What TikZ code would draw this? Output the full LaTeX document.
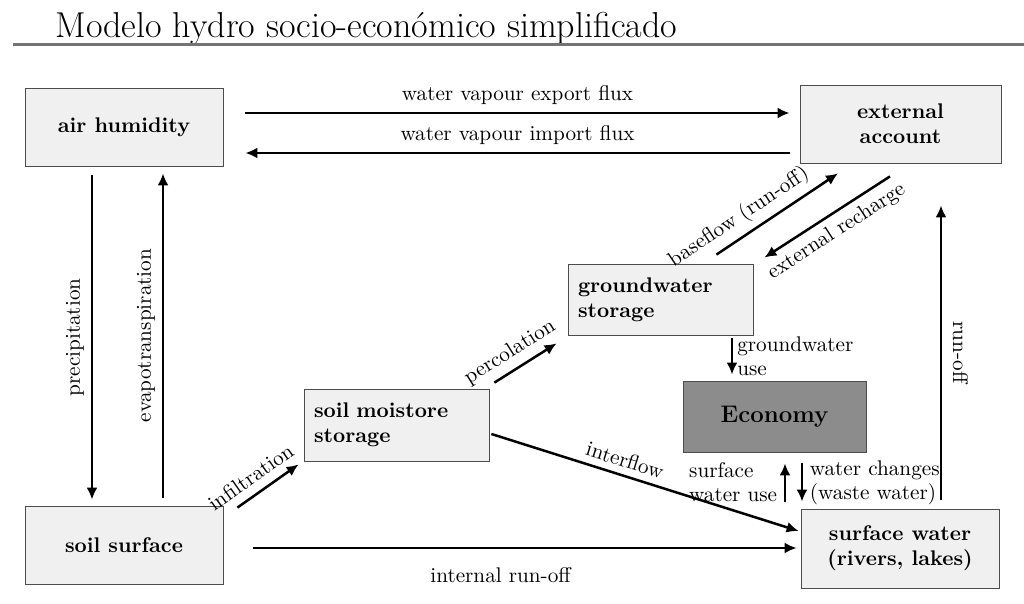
\documentclass[tikz,border=0pt]{standalone}
\usetikzlibrary{arrows.meta,calc}
\begin{document}
\begin{tikzpicture}[x=0.5pt, y=-0.5pt, font=\fontsize{10.6}{12}\selectfont,
    box/.style={draw=black!70, fill=black!6, font=\fontsize{10.6}{12.5}\selectfont\bfseries,
        inner sep=0pt, minimum width=99pt, minimum height=39pt, align=center},
    store/.style={box, align=left, inner xsep=5pt, text width=82.5pt,
        minimum width=92.5pt, minimum height=35.5pt},
    flow/.style={-{Latex[length=6pt,width=5.5pt]}, line width=1.25pt}]
    \useasboundingbox (0,0) rectangle (1024,604);

    \node[anchor=base west, inner sep=0pt, font=\fontsize{18}{20}\selectfont] (title) at (55,38)
        {Modelo hydro socio-económico simplificado};
    \draw[black!55, line width=1.5pt] (13,45) -- (1024,45);

    \node[box] (air) at (124,127) {air humidity};
    \node[box, minimum width=100.5pt] (ext) at (900.5,124) {external\\account};
    \node[store] (gw) at (660.5,299.5) {groundwater\\storage};
    \node[box, fill=black!45, font=\fontsize{12}{14}\selectfont\bfseries, minimum width=91.5pt,
        minimum height=35.5pt] (eco) at (774.5,416.5) {Economy};
    \node[store, minimum height=36pt] (soilm) at (396.5,425) {soil moistore\\storage};
    \node[box] (soil) at (124,545) {soil surface};
    \node[box, minimum height=39.5pt] (sw) at (900,548.5) {surface water\\(rivers, lakes)};

    \draw[flow] ($(air.east)+(22,-14)$) -- ($(ext.west)+(-10,-11)$)
        node[midway, above] {water vapour export flux};
    \draw[flow] ($(ext.west)+(-10,29)$) -- ($(air.east)+(22,26)$)
        node[midway, above] {water vapour import flux};
    \draw[flow] ($(air.south)+(-32,9)$) -- ($(soil.north)+(-32,-6)$)
        node[midway, rotate=90, above] {precipitation};
    \draw[flow] ($(soil.north)+(39,-8)$) -- ($(air.south)+(39,7)$)
        node[midway, rotate=90, above] {evapotranspiration};
    \draw[flow] ($(soil.north east)+(14,2)$) -- ($(soilm.south west)+(-5,3)$)
        node[pos=0.38, sloped, above=1pt] {infiltration};
    \draw[flow] ($(soilm.north east)+(5,-6)$) -- ($(gw.south west)+(-11,8)$)
        node[pos=0.4, sloped, above] {percolation};
    \draw[flow] ($(gw.north east)+(-37,-9)$) -- ($(ext.south)+(-62.5,10)$)
        node[pos=0.27, sloped, above] {baseflow (run-off)};
    \draw[flow] ($(ext.south)+(-10.5,13)$) -- ($(gw.north east)+(11,-6)$)
        node[pos=0.5, sloped, below] {external recharge};
    \draw[flow] ($(gw.south)+(71.5,3)$) -- ($(eco.north)+(-42.5,-6)$)
        node[midway, right, align=left, inner xsep=2pt] {groundwater\\use};
    \draw[flow] ($(soilm.east)+(2,9)$) -- ($(sw.west)+(-2,-17.5)$)
        node[pos=0.42, sloped, above] {interflow};
    \draw[flow] ($(soil.east)+(30,3)$) -- ($(sw.west)+(-4,-0.5)$)
        node[pos=0.455, below=6pt] {internal run-off};
    \draw[flow] ($(sw.north)+(-115,-7)$) -- ($(eco.south)+(10.5,11)$)
        node[midway, left, align=left] {surface\\water use};
    \draw[flow] ($(eco.south)+(27.5,11)$) -- ($(sw.north)+(-98,-7)$)
        node[midway, right, align=left] {water changes\\(waste water)};
    \draw[flow] ($(sw.north)+(41,-9)$) -- ($(ext.south)+(40.5,42)$)
        node[midway, rotate=-90, above=2pt] {run-off};
\end{tikzpicture}
\end{document}
